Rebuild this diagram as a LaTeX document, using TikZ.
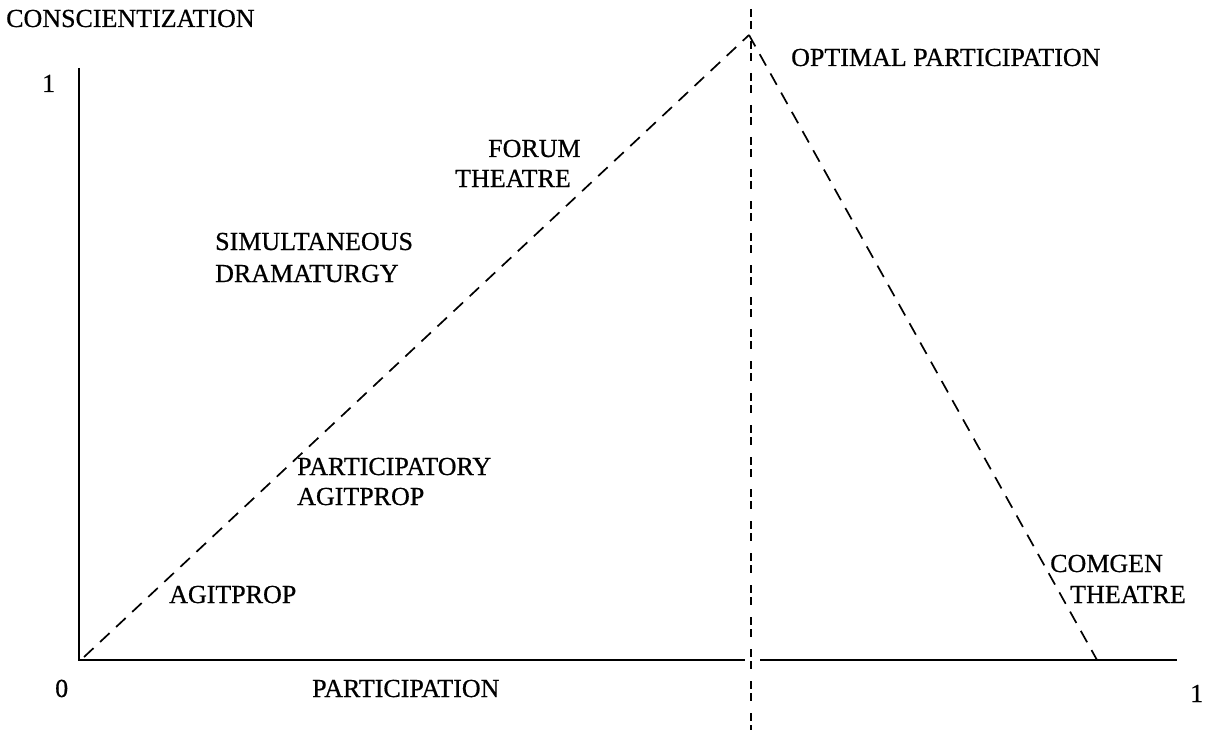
\documentclass[tikz,border=0pt]{standalone}
\usepackage{fontspec}
\setmainfont[FakeBold=0.6]{Liberation Serif}
\begin{document}
\begin{tikzpicture}[x=1pt,y=-1pt,
  lbl/.style={anchor=base west,inner sep=0pt,font=\fontsize{26}{30}\selectfont},
  axisline/.style={line width=1.8pt},
  guide/.style={line width=1.7pt,dash pattern=on 13pt off 9pt},
  divider/.style={line width=2.4pt,dash pattern=on 8pt off 4pt on 8pt off 12pt}]
\useasboundingbox (0,0) rectangle (1217,730);

% axes
\coordinate (origin) at (79,660);
\coordinate (ytop) at (79,68);
\coordinate (xgapl) at (745,660);
\coordinate (xgapr) at (760,660);
\coordinate (xend) at (1177,660);
\draw[axisline] (ytop) -- (origin) -- (xgapl);
\draw[axisline] (xgapr) -- (xend);

% optimum divider
\coordinate (vtop) at (751,9);
\coordinate (vbot) at (751,730);
\draw[divider] (vtop) -- (vbot);

% rising and falling guides
\coordinate (rise) at (84,657);
\coordinate (apex) at (749,35);
\coordinate (foot) at (1097,660);
\draw[guide] (rise) -- (apex);
\draw[guide] (apex) -- (foot);

% axis labels
\node[lbl] (yname) at (6,27) {CONSCIENTIZATION};
\node[lbl] (yone) at (42,92) {1};
\node[lbl] (xzero) at (55,697) {0};
\node[lbl] (xname) at (312,697) {PARTICIPATION};
\node[lbl] (xone) at (1190,702) {1};
\node[lbl] (optimal) at (791,66) {OPTIMAL PARTICIPATION};

% forms of theatre
\node[lbl] (forumA) at (488,157) {FORUM};
\node[lbl] (forumB) at (455,187) {THEATRE};
\node[lbl] (simA) at (215,250) {SIMULTANEOUS};
\node[lbl] (simB) at (215,282) {DRAMATURGY};
\node[lbl] (partA) at (297,475) {PARTICIPATORY};
\node[lbl] (partB) at (297,505) {AGITPROP};
\node[lbl] (agit) at (169,603) {AGITPROP};
\node[lbl] (comA) at (1050,572) {COMGEN};
\node[lbl] (comB) at (1070,603) {THEATRE};
\end{tikzpicture}
\end{document}
